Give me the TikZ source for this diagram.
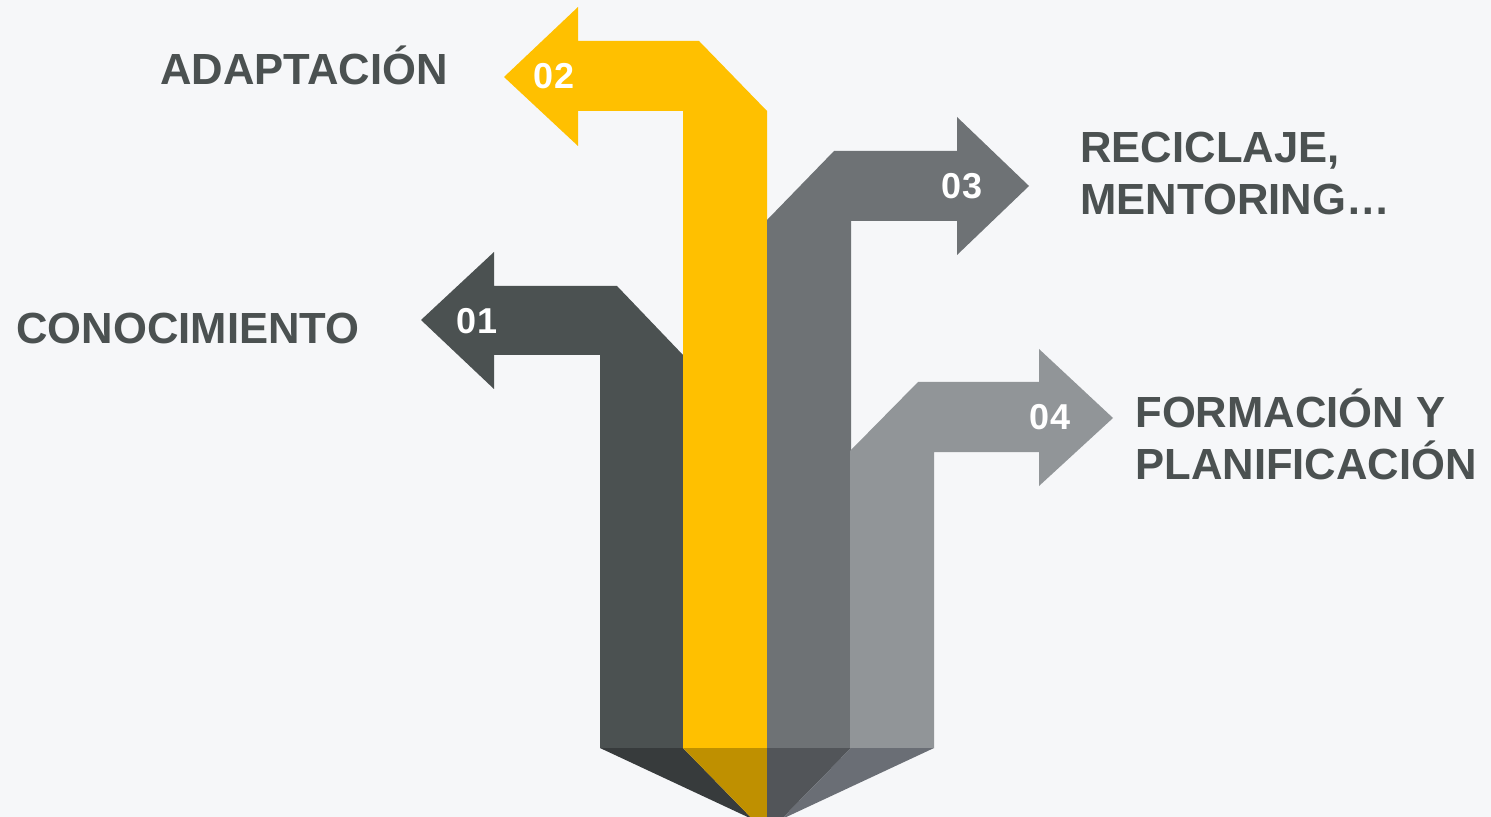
\documentclass[tikz,border=0pt]{standalone}
\usepackage{fontspec}
\setmainfont{Liberation Sans}
\definecolor{bg}{HTML}{F6F7F9}
\definecolor{cA}{HTML}{4B5151}
\definecolor{cB}{HTML}{FFC000}
\definecolor{cC}{HTML}{6E7275}
\definecolor{cD}{HTML}{919598}
\definecolor{dA}{HTML}{373B3C}
\definecolor{dB}{HTML}{BF9000}
\definecolor{dC}{HTML}{525559}
\definecolor{dD}{HTML}{6A6E75}
\definecolor{txt}{HTML}{4B5151}
\tikzset{
  label/.style={font=\bfseries\fontsize{21.8}{26}\selectfont, text=txt, inner sep=0pt, align=left, anchor=base west},
  num/.style={font=\bfseries\fontsize{18}{20}\selectfont, text=white, inner sep=0pt}
}
\begin{document}
\begin{tikzpicture}[x=0.5pt,y=-0.5pt]
\fill[bg] (0,0) rectangle (1491,817);
\useasboundingbox (0,0) rectangle (1491,817);
\begin{scope}
\clip (0,0) rectangle (1491,817);
% arrow 01
\fill[cA] (600,748) -- (600,355) -- (494,355) -- (494,389) -- (421,320) -- (494,252) -- (494,286) -- (617,286) -- (683,355) -- (683,748) -- cycle;
% arrow 02
\fill[cB] (683,748) -- (683,111) -- (578,111) -- (578,146) -- (504,77) -- (578,7) -- (578,41) -- (699,41) -- (767,111) -- (767,748) -- cycle;
% arrow 03
\fill[cC] (767,748) -- (767,220) -- (834,151) -- (957,151) -- (957,117) -- (1029,186) -- (957,255) -- (957,221) -- (851,221) -- (851,748) -- cycle;
% arrow 04
\fill[cD] (850,748) -- (850,451) -- (918,382) -- (1039,382) -- (1039,349) -- (1113,418) -- (1039,486) -- (1039,452) -- (934,452) -- (934,748) -- cycle;
% bottom facets
\fill[dA] (600,748) -- (683,748) -- (767,834) -- (767,826) -- cycle;
\fill[dB] (683,748) -- (767,748) -- (767,834) -- cycle;
\fill[dC] (767,748) -- (851,748) -- (767,834) -- cycle;
\fill[dD] (851,748) -- (934,748) -- (767,826) -- (767,834) -- cycle;
\end{scope}
% numbers
\node[num] (n1) at (477,321) {01};
\node[num] (n2) at (554,76) {02};
\node[num] (n3) at (962,186) {03};
\node[num] (n4) at (1050,417) {04};
% labels
\node[label] (l2) at (160,85) {ADAPTACIÓN};
\node[label] (l1) at (16,344) {CONOCIMIENTO};
\node[label] (l3) at (1080,215) {RECICLAJE,\\MENTORING…};
\node[label] (l4) at (1135,479) {FORMACIÓN Y\\PLANIFICACIÓN};
\end{tikzpicture}
\end{document}
